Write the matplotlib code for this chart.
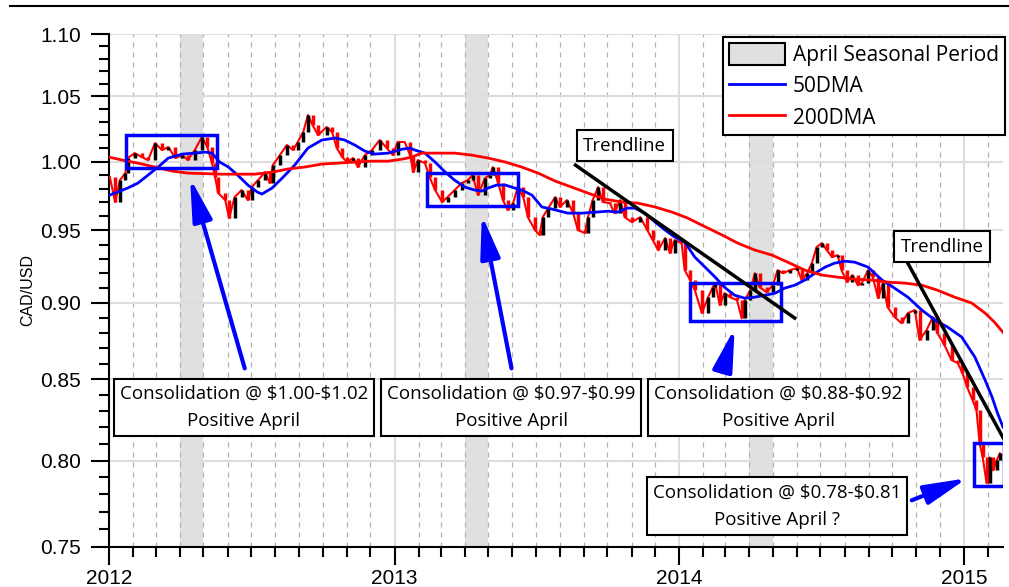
import numpy as np
import pandas as pd
import matplotlib
matplotlib.use('Agg')
import matplotlib.pyplot as plt
import matplotlib.dates as mdates
from matplotlib.ticker import FixedLocator, FormatStrFormatter, NullFormatter
from matplotlib.patches import Patch, Rectangle
from matplotlib.lines import Line2D

plt.rcParams['font.family'] = ['Liberation Sans', 'DejaVu Sans']

start = pd.Timestamp('2012-01-01')

# CAD/USD closes (days after 2012-01-01)
price_days = [1, 8, 14, 21, 24, 33, 42, 50, 59, 68, 76, 85, 94, 101, 110, 119, 126, 132, 136, 140,
              149, 154, 161, 170, 178, 183, 191, 200, 206, 210, 219, 228, 236, 242, 249, 255, 261, 268, 279, 286,
              292, 299, 305, 313, 319, 328, 337, 347, 356, 364, 370, 379, 386, 390, 396, 405, 411, 418, 427, 434,
              443, 452, 460, 466, 473, 482, 488, 492, 499, 505, 511, 518, 524, 531, 537, 546, 552, 556, 563, 572,
              578, 587, 595, 601, 610, 614, 620, 627, 633, 642, 648, 655, 661, 670, 681, 690, 697, 704, 713, 719,
              725, 734, 738, 745, 751, 760, 768, 774, 777, 783, 789, 796, 805, 811, 815, 822, 828, 834, 843, 851,
              857, 864, 873, 882, 888, 895, 901, 907, 914, 920, 927, 934, 939, 946, 953, 960, 965, 973, 979, 986,
              992, 998, 1007, 1016, 1024, 1033, 1039, 1048, 1056, 1062, 1071, 1080, 1088, 1094, 1100, 1107, 1112, 1116, 1120, 1125,
              1129, 1133, 1138, 1142]
price_close = [0.9885, 0.9703, 0.9863, 0.9915, 1.0027, 1.0064, 1.0034, 1.0012, 1.0140, 1.0087, 1.0110, 1.0027, 1.0049, 1.0012, 1.0087, 1.0186, 1.0110, 0.9989, 0.9885, 0.9768,
               0.9717, 0.9587, 0.9739, 0.9790, 0.9717, 0.9812, 0.9863, 0.9922, 0.9841, 0.9974, 1.0049, 1.0125, 1.0087, 1.0148, 1.0223, 1.0354, 1.0277, 1.0200, 1.0262, 1.0223,
               1.0102, 1.0034, 0.9997, 1.0027, 0.9960, 1.0049, 1.0087, 1.0163, 1.0102, 1.0049, 1.0148, 1.0148, 1.0049, 0.9922, 1.0012, 0.9989, 0.9885, 0.9790, 0.9703, 0.9739,
               0.9790, 0.9841, 0.9863, 0.9900, 0.9754, 0.9878, 0.9900, 0.9960, 0.9841, 0.9717, 0.9645, 0.9695, 0.9812, 0.9739, 0.9594, 0.9502, 0.9467, 0.9594, 0.9659, 0.9739,
               0.9667, 0.9717, 0.9623, 0.9502, 0.9481, 0.9594, 0.9717, 0.9812, 0.9703, 0.9695, 0.9623, 0.9717, 0.9594, 0.9559, 0.9594, 0.9502, 0.9431, 0.9361, 0.9446, 0.9340,
               0.9431, 0.9410, 0.9222, 0.9154, 0.9085, 0.8931, 0.9038, 0.9105, 0.9133, 0.8985, 0.9065, 0.9038, 0.9018, 0.8898, 0.9018, 0.9085, 0.9201, 0.9105, 0.9072, 0.9119,
               0.9222, 0.9201, 0.9222, 0.9236, 0.9154, 0.9201, 0.9270, 0.9382, 0.9410, 0.9361, 0.9312, 0.9326, 0.9222, 0.9140, 0.9188, 0.9119, 0.9133, 0.9222, 0.9174, 0.9031,
               0.9133, 0.8971, 0.8905, 0.8864, 0.8931, 0.8951, 0.8753, 0.8818, 0.8905, 0.8798, 0.8720, 0.8623, 0.8604, 0.8540, 0.8451, 0.8369, 0.8307, 0.8104, 0.8019, 0.7866,
               0.8019, 0.7942, 0.8001, 0.8043]

dma50_days = [1, 24, 37, 50, 63, 76, 94, 110, 123, 132, 142, 153, 165, 178, 190, 196, 209, 222, 238, 255,
              273, 290, 302, 315, 328, 341, 358, 376, 386, 392, 405, 418, 431, 443, 456, 469, 478, 486, 497, 508,
              520, 529, 542, 555, 568, 588, 606, 623, 640, 652, 664, 674, 687, 700, 713, 725, 738, 751, 764, 777,
              789, 802, 815, 828, 841, 854, 866, 879, 892, 905, 918, 930, 943, 956, 973, 991, 1007, 1024, 1042, 1059,
              1075, 1093, 1110, 1123, 1132, 1139, 1146]
dma50_vals = [0.9754, 0.9805, 0.9841, 0.9900, 0.9960, 1.0027, 1.0057, 1.0064, 1.0072, 1.0064, 0.9997, 0.9960, 0.9900, 0.9827, 0.9776, 0.9761, 0.9805, 0.9878, 0.9974, 1.0102,
              1.0163, 1.0178, 1.0163, 1.0125, 1.0079, 1.0057, 1.0064, 1.0094, 1.0102, 1.0087, 1.0064, 0.9997, 0.9922, 0.9863, 0.9812, 0.9790, 0.9783, 0.9805, 0.9827, 0.9827,
              0.9805, 0.9790, 0.9754, 0.9667, 0.9652, 0.9623, 0.9623, 0.9630, 0.9637, 0.9630, 0.9659, 0.9659, 0.9623, 0.9559, 0.9502, 0.9453, 0.9417, 0.9312, 0.9243, 0.9174,
              0.9105, 0.9051, 0.9031, 0.9038, 0.9051, 0.9065, 0.9099, 0.9119, 0.9154, 0.9201, 0.9243, 0.9270, 0.9284, 0.9277, 0.9243, 0.9154, 0.9099, 0.9038, 0.8951, 0.8884,
              0.8838, 0.8773, 0.8642, 0.8496, 0.8388, 0.8288, 0.8202]

dma200_days = [0, 17, 37, 59, 81, 101, 145, 187, 209, 229, 251, 273, 293, 315, 337, 358, 376, 388, 401, 422,
               443, 465, 486, 508, 529, 550, 572, 593, 614, 636, 657, 678, 700, 722, 742, 760, 786, 806, 828, 850,
               870, 892, 914, 934, 956, 978, 998, 1020, 1042, 1062, 1084, 1106, 1123, 1135, 1146]
dma200_vals = [1.0034, 1.0012, 0.9989, 0.9960, 0.9930, 0.9915, 0.9907, 0.9907, 0.9922, 0.9945, 0.9960, 0.9982, 0.9989, 0.9997, 1.0004, 1.0004, 1.0019, 1.0034, 1.0064, 1.0064,
               1.0064, 1.0049, 1.0027, 0.9997, 0.9960, 0.9915, 0.9856, 0.9812, 0.9768, 0.9724, 0.9703, 0.9695, 0.9667, 0.9630, 0.9587, 0.9537, 0.9467, 0.9410, 0.9361, 0.9326,
               0.9277, 0.9222, 0.9188, 0.9174, 0.9160, 0.9154, 0.9140, 0.9133, 0.9119, 0.9085, 0.9038, 0.8998, 0.8931, 0.8871, 0.8804]

april_periods = [('2012-04-01', '2012-05-01'), ('2013-04-01', '2013-05-01'), ('2014-04-01', '2014-05-01')]

# consolidation ranges: start, end, low, high
consol = [('2012-01-23', '2012-05-18', 0.995, 1.020),
          ('2013-02-12', '2013-06-08', 0.9675, 0.9915),
          ('2014-01-15', '2014-05-11', 0.888, 0.9133),
          ('2015-01-14', '2015-02-21', 0.7852, 0.8104)]

trend1 = (['2013-08-21', '2014-05-29'], [0.9974, 0.8898])
trend2 = (['2014-10-21', '2015-02-24'], [0.927, 0.8104])

labels = ['Consolidation @ \\$1.00-\\$1.02\nPositive April',
          'Consolidation @ \\$0.97-\\$0.99\nPositive April',
          'Consolidation @ \\$0.88-\\$0.92\nPositive April',
          'Consolidation @ \\$0.78-\\$0.81\nPositive April ?']
label_pos = [(0.151, 0.272), (0.450, 0.272), (0.749, 0.272), (0.747, 0.080)]
# arrow tip (date, value) and tail (date, value)
arrows = [(('2012-04-14', 0.9878), ('2012-06-23', 0.857)),
          (('2013-04-23', 0.9609), ('2013-05-31', 0.857)),
          (('2014-03-13', 0.8831), ('2014-02-25', 0.8546)),
          (('2015-01-05', 0.7895), ('2014-10-26', 0.7766))]


def d(s):
    return mdates.date2num(pd.Timestamp(s))


p_dates = start + pd.to_timedelta(price_days, unit='D')
close = np.array(price_close)
opens = np.r_[close[0], close[:-1]]
cols = ['red' if c < o else 'black' for o, c in zip(opens, close)]

fig = plt.figure(figsize=(10.09, 5.87), dpi=100)
ax = fig.add_axes([109/1009, 40/587, 894/1009, 513/587])

for a, b in april_periods:
    ax.axvspan(d(a), d(b), color='#e0e0e0', lw=0, zorder=0.5)

ax.plot(p_dates, close, color='red', lw=1.5, zorder=3)
ax.vlines(p_dates, opens, close, colors=cols, lw=2.5, zorder=4)

ax.plot(start + pd.to_timedelta(dma50_days, unit='D'), dma50_vals, color='blue', lw=2, zorder=5)
ax.plot(start + pd.to_timedelta(dma200_days, unit='D'), dma200_vals, color='red', lw=2, zorder=5)

for a, b, lo, hi in consol:
    ax.add_patch(Rectangle((d(a), lo), d(b) - d(a), hi - lo, fill=False, ec='blue', lw=2.5, zorder=6))

for tx, ty in (trend1, trend2):
    ax.plot([d(t) for t in tx], ty, color='black', lw=2.5, zorder=6)

box = dict(boxstyle='square,pad=0.32', fc='white', ec='black', lw=1.5)
for txt, (x, y) in zip(labels, label_pos):
    ax.text(x, y, txt, transform=ax.transAxes, ha='center', va='center', fontsize=13.5,
            family='Open Sans', linespacing=1.65, bbox=box, zorder=8)
for x, y in [(0.577, 0.782), (0.932, 0.585)]:
    ax.text(x, y, 'Trendline', transform=ax.transAxes, ha='center', va='center', fontsize=13.5,
            family='Open Sans', bbox=dict(boxstyle='square,pad=0.35', fc='white', ec='black', lw=1.5), zorder=8)

for (tip, tail) in arrows:
    ax.annotate('', xy=(d(tip[0]), tip[1]), xytext=(d(tail[0]), tail[1]),
                arrowprops=dict(arrowstyle='-|>,head_length=1.3,head_width=0.3', lw=3, color='blue',
                                mutation_scale=20, shrinkA=0, shrinkB=0), zorder=7)

ax.set_yscale('log')
ax.set_ylim(0.75, 1.10)
ax.set_xlim(d('2012-01-01'), d('2015-02-20'))
ax.yaxis.set_major_locator(FixedLocator(np.round(np.arange(0.75, 1.1001, 0.05), 2)))
ax.yaxis.set_major_formatter(FormatStrFormatter('%.2f'))
ax.yaxis.set_minor_locator(FixedLocator(np.round(np.arange(0.75, 1.10, 0.01), 2)))
ax.yaxis.set_minor_formatter(NullFormatter())
ax.xaxis.set_major_locator(mdates.YearLocator())
ax.xaxis.set_major_formatter(mdates.DateFormatter('%Y'))
ax.xaxis.set_minor_locator(mdates.MonthLocator())

ax.grid(True, which='major', color='#dddddd', lw=1.5, ls='-', zorder=0)
ax.xaxis.grid(True, which='minor', color='#b0b0b0', lw=0.9, ls=(0, (4, 4)), zorder=0)
ax.set_axisbelow(True)

for s in ['top', 'right']:
    ax.spines[s].set_visible(False)
for s in ['left', 'bottom']:
    ax.spines[s].set_linewidth(1.5)
ax.tick_params(which='major', direction='out', length=13, width=1.5, labelsize=15, pad=7)
ax.tick_params(axis='x', which='major', pad=3)
ax.tick_params(which='minor', direction='out', length=7, width=1.5)
ax.set_ylabel('CAD/USD', fontsize=11.5, labelpad=4)

handles = [Patch(fc='#e0e0e0', ec='black', lw=1.5, label='April Seasonal Period'),
           Line2D([], [], color='blue', lw=2, label='50DMA'),
           Line2D([], [], color='red', lw=2, label='200DMA')]
leg = ax.legend(handles=handles, loc='upper right', bbox_to_anchor=(1.002, 0.994), fancybox=False,
                framealpha=1, edgecolor='black', prop={'family': 'Open Sans', 'size': 15},
                handlelength=2.7, handleheight=1.2, handletextpad=0.35, labelspacing=0.42, borderpad=0.3,
                borderaxespad=0)
leg.get_frame().set_linewidth(1.5)
leg.set_zorder(9)

fig.add_artist(Line2D([10/1009, 1], [1 - 6/587, 1 - 6/587], color='black', lw=1.5, transform=fig.transFigure))

fig.savefig('out.png', dpi=100)
